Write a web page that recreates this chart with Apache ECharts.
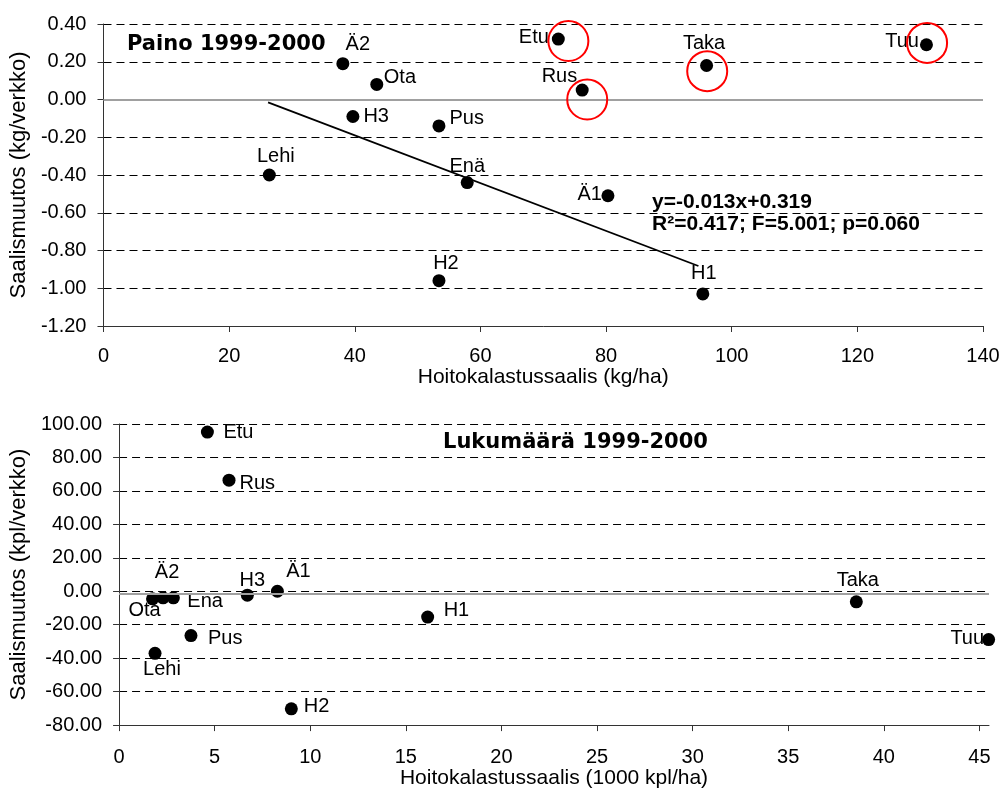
<!DOCTYPE html>
<html>
<head>
<meta charset="utf-8">
<script src="https://cdn.jsdelivr.net/npm/echarts@6/dist/echarts.min.js"></script>
<style>html,body{margin:0;padding:0;background:#fff}#c{width:1007px;height:790px}</style>
</head>
<body>
<div id="c"></div>
<script>
// ---- data ----
const siteNames = ['Ä2','Ota','H3','Pus','Lehi','Enä','H2','Ä1','H1','Etu','Rus','Taka','Tuu'];
// top chart: weight (kg/ha vs kg/verkko)
const weightCatch  = [38.1, 43.5, 39.7, 53.4, 26.4, 57.9, 53.4, 80.3, 95.4, 72.4, 76.2, 96.0, 131.0];
const weightChange = [0.19, 0.08, -0.09, -0.14, -0.40, -0.44, -0.96, -0.51, -1.03, 0.32, 0.05, 0.18, 0.29];
// circled (excluded) sites in top chart
const circleX = [74.0, 77.0, 96.1, 131.1];
const circleY = [0.31, 0.00, 0.15, 0.30];
// regression line endpoints
const regX = [26.2, 94.7];
const regY = [-0.015, -0.882];
// bottom chart: numbers (1000 kpl/ha vs kpl/verkko)
const countCatch  = [2.30, 1.75, 6.71, 3.76, 1.88, 2.84, 9.01, 8.28, 16.14, 4.62, 5.75, 38.56, 45.48];
const countChange = [-3.9, -4.5, -2.3, -26.5, -37.1, -3.9, -70.3, 0.0, -15.4, 95.2, 66.4, -6.3, -28.9];
const countRef = -1.4;
const bottomXTicks = [0,5,10,15,20,25,30,35,40,45];
const titleTop = 'Paino 1999-2000';
const titleBottom = 'Lukumäärä 1999-2000';
const eqLine1 = 'y=-0.013x+0.319';
const eqLine2 = 'R²=0.417; F=5.001; p=0.060';

// ---- label layout (align, dx, dy) ----
const topLabelLayout = {
  'Ä2':['center',15,-19], 'Ota':['left',7,-7], 'H3':['left',10.5,0], 'Pus':['left',10.5,-7],
  'Lehi':['center',6.5,-18.5], 'Enä':['center',0,-16], 'H2':['center',7,-17], 'Ä1':['right',-6,-1],
  'H1':['center',1,-20], 'Etu':['right',-9.5,-1.5], 'Rus':['right',-5,-14], 'Taka':['center',-2.5,-22],
  'Tuu':['right',-7.5,-3.5]
};
const bottomLabelLayout = {
  'Etu':['left',16,0], 'Rus':['left',10.5,3], 'Ä2':['center',4,-25.5], 'H3':['center',5,-14.5],
  'Ä1':['center',21,-19.5], 'Enä':['left',14,3.5], 'Ota':['center',-8,11.5], 'Pus':['left',17,2.5],
  'Lehi':['center',7,16], 'H2':['left',12.5,-2.5], 'H1':['left',16,-6.5], 'Taka':['center',1.5,-21.5],
  'Tuu':['right',-4.5,-1.5]
};

const FONT = 'Liberation Sans, Arial, sans-serif';
const TITLE_FONT = 'DejaVu Sans, sans-serif';

function makePoints(xs, ys, layout) {
  return siteNames.map((n, i) => {
    const l = layout[n];
    return {
      name: n, value: [xs[i], ys[i]],
      label: { show: true, position: 'inside', align: l[0], verticalAlign: 'middle', offset: [l[1], l[2]],
               formatter: '{b}', color: '#000', fontSize: 20, fontFamily: FONT }
    };
  });
}
const fmt2 = v => (Math.abs(v) < 1e-9 ? 0 : v).toFixed(2);

const axisLineStyle = { color: '#333', width: 1 };
const gridDash = { color: '#000', width: 1, type: [8, 5] };
const labelStyle = { color: '#000', fontSize: 20, fontFamily: FONT };

const chart = echarts.init(document.getElementById('c'), null, { renderer: 'canvas' });
chart.setOption({
  animation: false,
  backgroundColor: '#fff',
  grid: [
    { left: 103, top: 24, width: 880, height: 302 },
    { left: 118, top: 424, width: 871, height: 302 }
  ],
  xAxis: [
    { type: 'value', gridIndex: 0, min: 0, max: 140, interval: 20,
      name: 'Hoitokalastussaalis (kg/ha)', nameLocation: 'middle', nameGap: 41,
      nameTextStyle: { color: '#000', fontSize: 21, fontFamily: FONT },
      axisLine: { show: true, onZero: false, lineStyle: axisLineStyle },
      axisTick: { show: true, length: 6, lineStyle: axisLineStyle },
      axisLabel: Object.assign({ margin: 20 }, labelStyle),
      splitLine: { show: false } },
    { type: 'value', gridIndex: 1, min: 0, max: 45.5, interval: 5,
      name: 'Hoitokalastussaalis (1000 kpl/ha)', nameLocation: 'middle', nameGap: 41,
      nameTextStyle: { color: '#000', fontSize: 21, fontFamily: FONT },
      axisLine: { show: true, onZero: false, lineStyle: axisLineStyle },
      axisTick: { show: true, length: 6, lineStyle: axisLineStyle, customValues: bottomXTicks },
      axisLabel: Object.assign({ margin: 22, customValues: bottomXTicks }, labelStyle),
      splitLine: { show: false } }
  ],
  yAxis: [
    { type: 'value', gridIndex: 0, min: -1.2, max: 0.4, interval: 0.2,
      name: 'Saalismuutos (kg/verkko)', nameLocation: 'middle', nameGap: 62,
      nameTextStyle: { color: '#000', fontSize: 22, fontFamily: FONT },
      axisLine: { show: true, onZero: false, lineStyle: axisLineStyle },
      axisTick: { show: true, length: 6, lineStyle: axisLineStyle },
      axisLabel: Object.assign({ margin: 17, formatter: fmt2 }, labelStyle),
      splitLine: { show: true, lineStyle: gridDash } },
    { type: 'value', gridIndex: 1, min: -80, max: 100, interval: 20,
      name: 'Saalismuutos (kpl/verkko)', nameLocation: 'middle', nameGap: 77,
      nameTextStyle: { color: '#000', fontSize: 22, fontFamily: FONT },
      axisLine: { show: true, onZero: false, lineStyle: axisLineStyle },
      axisTick: { show: true, length: 6, lineStyle: axisLineStyle },
      axisLabel: Object.assign({ margin: 17, formatter: fmt2 }, labelStyle),
      splitLine: { show: true, lineStyle: gridDash } }
  ],
  graphic: [
    { type: 'text', x: 127, y: 45, style: { text: titleTop, font: 'bold 21px ' + TITLE_FONT, fill: '#000', verticalAlign: 'middle' } },
    { type: 'text', x: 443, y: 443, style: { text: titleBottom, font: 'bold 21px ' + TITLE_FONT, fill: '#000', verticalAlign: 'middle' } },
    { type: 'text', x: 652, y: 202, style: { text: eqLine1, font: 'bold 21px ' + FONT, fill: '#000', verticalAlign: 'middle' } },
    { type: 'text', x: 652, y: 224, style: { text: eqLine2, font: 'bold 21px ' + FONT, fill: '#000', verticalAlign: 'middle' } }
  ],
  series: [
    { type: 'line', xAxisIndex: 0, yAxisIndex: 0, data: regX.map((x, i) => [x, regY[i]]),
      symbol: 'none', silent: true, lineStyle: { color: '#000', width: 1.8 }, z: 3,
      markLine: { silent: true, symbol: 'none', label: { show: false },
        lineStyle: { color: '#a0a0a0', width: 2, type: 'solid' }, data: [{ yAxis: 0 }] } },
    { type: 'scatter', xAxisIndex: 0, yAxisIndex: 0, symbol: 'circle', symbolSize: 13,
      itemStyle: { color: '#000', opacity: 1 }, data: makePoints(weightCatch, weightChange, topLabelLayout), z: 4 },
    { type: 'scatter', xAxisIndex: 0, yAxisIndex: 0, symbol: 'circle', symbolSize: 40, silent: true,
      itemStyle: { color: 'rgba(0,0,0,0)', borderColor: '#ff0000', borderWidth: 2, opacity: 1 },
      data: circleX.map((x, i) => [x, circleY[i]]), z: 5 },
    { type: 'scatter', xAxisIndex: 1, yAxisIndex: 1, symbol: 'circle', symbolSize: 13,
      itemStyle: { color: '#000', opacity: 1 }, data: makePoints(countCatch, countChange, bottomLabelLayout), z: 4,
      markLine: { silent: true, symbol: 'none', label: { show: false },
        lineStyle: { color: '#a0a0a0', width: 2, type: 'solid' }, data: [{ yAxis: countRef }] } }
  ]
});
</script>
</body>
</html>
